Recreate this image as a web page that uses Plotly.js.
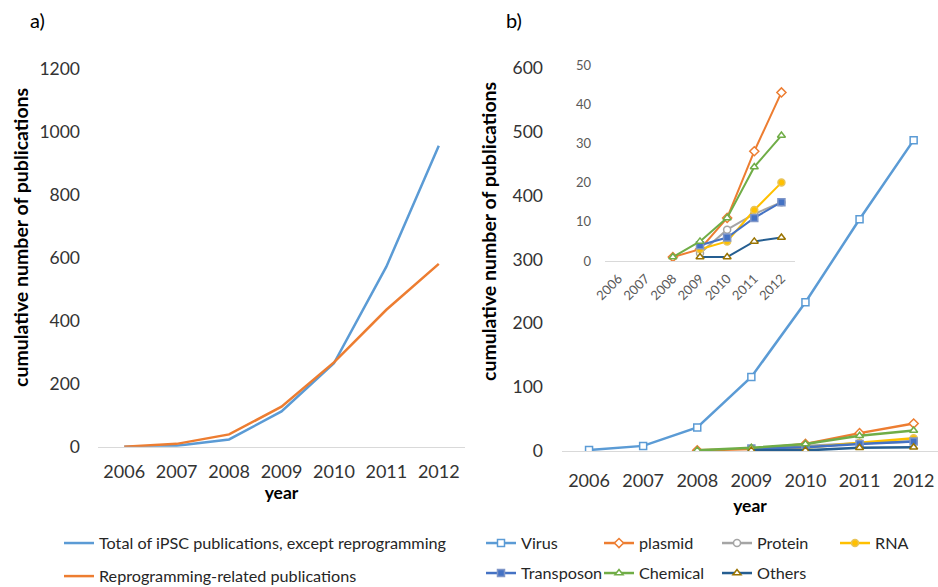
<!DOCTYPE html>
<html>
<head>
<meta charset="utf-8">
<script src="https://cdn.plot.ly/plotly-3.0.1.min.js"></script>
<style>html,body{margin:0;padding:0;background:#fff;}#chart{width:938px;height:587px;}</style>
</head>
<body>
<div id="chart"></div>
<script>
// ---- data ----
var years = ["2006", "2007", "2008", "2009", "2010", "2011", "2012"];

// panel a
var totalExceptReprog = [0, 3, 23, 112, 265, 572, 956];
var reprogRelated = [0, 9, 39, 127, 268, 435, 581];

// panel b
var virusYears = ["2006", "2007", "2008", "2009", "2010", "2011", "2012"];
var virus = [1.5, 8, 37, 116, 233, 363, 487];
var plasmidYears = ["2008", "2009", "2010", "2011", "2012"];
var plasmid = [1, 3, 11, 28, 43];
var proteinYears = ["2009", "2010", "2011", "2012"];
var protein = [2, 8, 12, 15];
var rnaYears = ["2009", "2010", "2011", "2012"];
var rna = [3, 5, 13, 20];
var transposonYears = ["2009", "2010", "2011", "2012"];
var transposon = [4, 6, 11, 15];
var chemicalYears = ["2008", "2009", "2010", "2011", "2012"];
var chemical = [1, 5, 11, 24, 32];
var othersYears = ["2009", "2010", "2011", "2012"];
var others = [1, 1, 5, 6];

var yTitle = "cumulative number of publications";

var W = 938, H = 587;
function px(x){ return x / W; }
function py(y){ return 1 - y / H; }

var FONT = "Lato, 'Open Sans', sans-serif";
var TXT = "#333333";

var traces = [];
// panel a
traces.push({x: years, y: totalExceptReprog, type: "scatter", mode: "lines", name: "Total of iPSC publications, except reprogramming",
  line: {color: "#5B9BD5", width: 2.5}, xaxis: "x", yaxis: "y", legend: "legend", legendgroup: "a1"});
traces.push({x: years, y: reprogRelated, type: "scatter", mode: "lines", name: "Reprogramming-related publications",
  line: {color: "#ED7D31", width: 2.5}, xaxis: "x", yaxis: "y", legend: "legend", legendgroup: "a2"});

// panel b series definitions
var seriesB = [
  {name: "Virus", xs: virusYears, ys: virus, color: "#5B9BD5", sym: "square", fill: "#ffffff", mline: "#5B9BD5", leg: "legend2", inset: false},
  {name: "plasmid", xs: plasmidYears, ys: plasmid, color: "#ED7D31", sym: "diamond", fill: "#ffffff", mline: "#ED7D31", leg: "legend2", inset: true},
  {name: "Protein", xs: proteinYears, ys: protein, color: "#A5A5A5", sym: "circle", fill: "#ffffff", mline: "#A5A5A5", leg: "legend2", inset: true},
  {name: "RNA", xs: rnaYears, ys: rna, color: "#FFC000", sym: "circle", fill: "#FFC000", mline: "#E8C45A", leg: "legend2", inset: true},
  {name: "Transposon", xs: transposonYears, ys: transposon, color: "#4472C4", sym: "square", fill: "#4472C4", mline: "#7F96C8", leg: "legend3", inset: true},
  {name: "Chemical", xs: chemicalYears, ys: chemical, color: "#70AD47", sym: "triangle-up", fill: "#ffffff", mline: "#70AD47", leg: "legend3", inset: true},
  {name: "Others", xs: othersYears, ys: others, color: "#255E91", sym: "triangle-up", fill: "#ffffff", mline: "#997300", leg: "legend3", inset: true}
];

seriesB.forEach(function(s){
  traces.push({x: s.xs, y: s.ys, type: "scatter", mode: "lines+markers", name: s.name,
    line: {color: s.color, width: 2.5},
    marker: {symbol: s.sym, size: 7, color: s.fill, line: {color: s.mline, width: 1.5}},
    xaxis: "x2", yaxis: "y2", legend: s.leg});
});
seriesB.forEach(function(s){
  if (!s.inset) return;
  traces.push({x: s.xs, y: s.ys, type: "scatter", mode: "lines+markers", name: s.name, showlegend: false,
    line: {color: s.color, width: 2},
    marker: {symbol: s.sym, size: 7, color: s.fill, line: {color: s.mline, width: 1.5}},
    xaxis: "x3", yaxis: "y3"});
});

var catX = {type: "category", categoryorder: "array", categoryarray: years, showgrid: false, zeroline: false,
  showline: true, linecolor: "#D9D9D9", linewidth: 1, ticks: "", fixedrange: true, automargin: false};
var valY = {showgrid: false, zeroline: false, showline: false, ticks: "", automargin: false, fixedrange: true};

var layout = {
  width: W, height: H,
  margin: {l: 0, r: 0, t: 0, b: 0, autoexpand: false},
  paper_bgcolor: "#ffffff", plot_bgcolor: "rgba(0,0,0,0)",
  font: {family: FONT, color: TXT, size: 17},
  showlegend: true,
  xaxis: Object.assign({}, catX, {domain: [px(98), px(465)], range: [-0.5, 6.5], anchor: "y",
    tickfont: {size: 18, color: TXT}, ticklabelstandoff: 9,
    title: {text: "<b>year</b>", font: {size: 17.5, color: "#000"}, standoff: 0}}),
  yaxis: Object.assign({}, valY, {domain: [py(446.7), py(69)], range: [0, 1200], tickvals: [0, 200, 400, 600, 800, 1000, 1200],
    anchor: "x", tickfont: {size: 17.5, color: TXT}, ticklabelstandoff: 17}),
  xaxis2: Object.assign({}, catX, {domain: [px(562), 1], range: [-0.5, 6.45], anchor: "y2",
    tickfont: {size: 18, color: TXT}, ticklabelstandoff: 13,
    title: {text: "<b>year</b>", font: {size: 17.5, color: "#000"}, standoff: 10}}),
  yaxis2: Object.assign({}, valY, {domain: [py(451), py(68)], range: [0, 600], tickvals: [0, 100, 200, 300, 400, 500, 600],
    anchor: "x2", tickfont: {size: 17.5, color: TXT}, ticklabelstandoff: 18}),
  xaxis3: Object.assign({}, catX, {domain: [px(605), px(795)], range: [-0.5, 6.5], anchor: "y3",
    tickfont: {size: 13, color: "#595959"}, tickangle: -45, ticklabelstandoff: 4}),
  yaxis3: Object.assign({}, valY, {domain: [py(261), py(65)], range: [0, 50], tickvals: [0, 10, 20, 30, 40, 50],
    anchor: "x3", tickfont: {size: 13, color: "#595959"}, ticklabelstandoff: 13}),
  legend: {x: px(59), y: py(526), xanchor: "left", yanchor: "top", orientation: "v",
    font: {size: 16.2, color: "#262626", family: FONT}, bgcolor: "rgba(0,0,0,0)", tracegroupgap: 9, traceorder: "grouped", itemwidth: 30},
  legend2: {x: px(481), y: py(526), xanchor: "left", yanchor: "top", orientation: "h",
    font: {size: 16.2, color: "#262626", family: FONT}, bgcolor: "rgba(0,0,0,0)", entrywidth: 73, entrywidthmode: "pixels", itemwidth: 30},
  legend3: {x: px(481), y: py(556), xanchor: "left", yanchor: "top", orientation: "h",
    font: {size: 16.2, color: "#262626", family: FONT}, bgcolor: "rgba(0,0,0,0)", entrywidth: 73, entrywidthmode: "pixels", itemwidth: 30},
  annotations: [
    {text: "a)", x: px(28), y: py(20), xref: "paper", yref: "paper", xanchor: "left", yanchor: "middle", showarrow: false,
      font: {size: 20, color: "#000", family: FONT}},
    {text: "b)", x: px(504), y: py(20), xref: "paper", yref: "paper", xanchor: "left", yanchor: "middle", showarrow: false,
      font: {size: 20, color: "#000", family: FONT}},
    {text: "<b>" + yTitle + "</b>", x: px(20), y: py(238), xref: "paper", yref: "paper", xanchor: "center", yanchor: "middle",
      textangle: -90, showarrow: false, font: {size: 19.5, color: "#000", family: FONT}},
    {text: "<b>" + yTitle + "</b>", x: px(489), y: py(232), xref: "paper", yref: "paper", xanchor: "center", yanchor: "middle",
      textangle: -90, showarrow: false, font: {size: 19.5, color: "#000", family: FONT}}
  ]
};

Plotly.newPlot("chart", traces, layout, {displayModeBar: false, staticPlot: true});
</script>
</body>
</html>
